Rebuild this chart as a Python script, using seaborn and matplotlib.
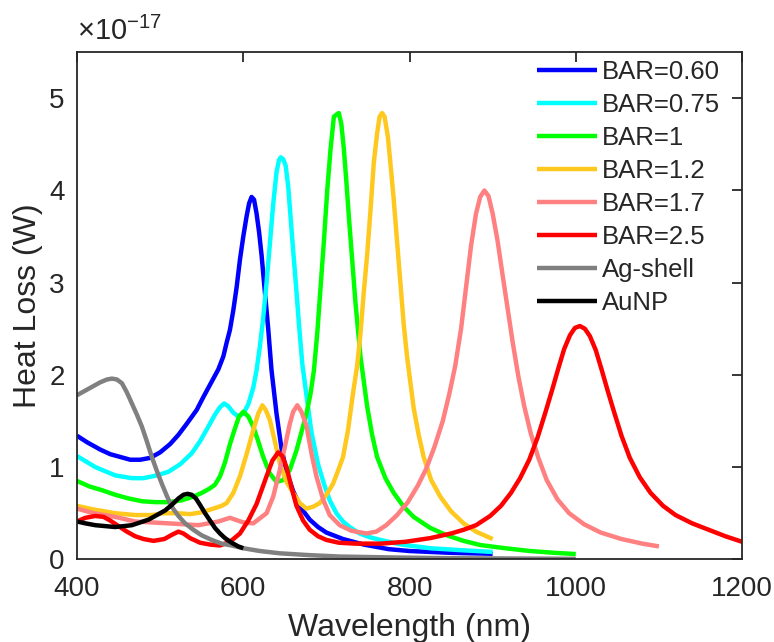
import numpy as np
import pandas as pd
import matplotlib
matplotlib.use("Agg")
import matplotlib.pyplot as plt
import seaborn as sns

# Heat loss spectra (values in units of 1e-17 W) versus wavelength (nm)
bar060_wl = [400, 412, 428, 440, 452, 464, 476, 488, 500, 512, 522, 532, 544, 552, 558, 564, 570, 576,
             580, 584, 588, 592, 596, 600, 604, 607, 610, 613, 616, 619, 622, 626, 630, 634, 640, 646,
             652, 660, 670, 680, 690, 700, 720, 745, 775, 800, 850, 900]
bar060_hl = [1.34, 1.27, 1.19, 1.14, 1.11, 1.08, 1.08, 1.10, 1.16, 1.25, 1.35, 1.47, 1.62, 1.76, 1.86,
             1.96, 2.06, 2.20, 2.35, 2.49, 2.70, 2.95, 3.25, 3.50, 3.72, 3.86, 3.93, 3.90, 3.75, 3.55,
             3.30, 2.90, 2.50, 2.05, 1.58, 1.20, 0.95, 0.74, 0.55, 0.43, 0.35, 0.29, 0.22, 0.16, 0.11,
             0.09, 0.07, 0.06]

bar075_wl = [400, 422, 446, 466, 480, 496, 510, 524, 538, 548, 558, 566, 572, 577, 582, 588, 594, 600,
             606, 612, 616, 620, 624, 628, 632, 636, 640, 643, 645, 648, 651, 654, 657, 660, 663, 667,
             671, 676, 682, 690, 697, 704, 712, 720, 728, 740, 752, 765, 790, 825, 860, 900]
bar075_hl = [1.12, 1.00, 0.91, 0.88, 0.88, 0.91, 0.95, 1.03, 1.15, 1.28, 1.44, 1.57, 1.65, 1.69, 1.66,
             1.59, 1.55, 1.58, 1.68, 1.86, 2.05, 2.31, 2.62, 3.00, 3.42, 3.85, 4.20, 4.33, 4.36, 4.34,
             4.27, 4.05, 3.70, 3.35, 3.02, 2.55, 2.12, 1.78, 1.38, 1.03, 0.82, 0.64, 0.50, 0.41, 0.35,
             0.28, 0.24, 0.21, 0.16, 0.12, 0.10, 0.08]

bar1_wl = [400, 415, 430, 446, 462, 478, 494, 510, 526, 540, 550, 560, 566, 572, 578, 584, 590, 595,
           600, 606, 612, 618, 624, 632, 640, 648, 656, 664, 670, 676, 681, 685, 689, 693, 697, 701,
           705, 709, 713, 715, 718, 721, 724, 727, 731, 735, 741, 749, 755, 761, 771, 781, 793, 805,
           825, 845, 865, 885, 915, 945, 975, 1000]
bar1_hl = [0.85, 0.79, 0.75, 0.70, 0.66, 0.63, 0.62, 0.62, 0.64, 0.68, 0.72, 0.77, 0.81, 0.90, 1.05,
           1.25, 1.42, 1.55, 1.60, 1.55, 1.44, 1.28, 1.11, 0.93, 0.84, 0.86, 0.97, 1.18, 1.38, 1.58,
           1.80, 2.05, 2.45, 2.95, 3.45, 4.00, 4.45, 4.80, 4.83, 4.84, 4.72, 4.45, 4.10, 3.72, 3.25,
           2.78, 2.20, 1.66, 1.35, 1.11, 0.88, 0.72, 0.57, 0.46, 0.34, 0.26, 0.20, 0.155, 0.12, 0.09,
           0.07, 0.057]

bar12_wl = [400, 420, 446, 470, 490, 504, 520, 536, 550, 564, 574, 580, 588, 596, 604, 612, 618, 623,
            627, 632, 638, 644, 652, 660, 668, 676, 684, 692, 700, 708, 714, 720, 726, 732, 737, 741,
            745, 749, 753, 757, 761, 764, 767, 770, 774, 778, 781, 785, 789, 793, 797, 805, 811, 817,
            826, 837, 850, 865, 880, 900]
bar12_hl = [0.58, 0.54, 0.50, 0.48, 0.48, 0.50, 0.50, 0.49, 0.51, 0.55, 0.58, 0.61, 0.72, 0.90, 1.14,
            1.40, 1.58, 1.67, 1.62, 1.51, 1.28, 1.04, 0.84, 0.72, 0.61, 0.55, 0.57, 0.61, 0.70, 0.82,
            0.96, 1.11, 1.40, 1.80, 2.10, 2.45, 2.90, 3.30, 3.78, 4.30, 4.62, 4.80, 4.84, 4.80, 4.58,
            4.20, 3.90, 3.45, 3.00, 2.55, 2.20, 1.64, 1.35, 1.11, 0.86, 0.68, 0.52, 0.39, 0.30, 0.22]

bar17_wl = [400, 420, 446, 470, 510, 546, 570, 584, 600, 612, 628, 636, 644, 650, 656, 660, 665, 670,
            676, 682, 688, 696, 704, 716, 730, 748, 760, 772, 785, 798, 810, 820, 830, 840, 848, 855,
            862, 868, 874, 880, 885, 890, 895, 900, 906, 912, 918, 924, 931, 938, 946, 955, 965, 978,
            992, 1010, 1030, 1055, 1080, 1100]
bar17_hl = [0.55, 0.50, 0.46, 0.41, 0.39, 0.37, 0.41, 0.45, 0.40, 0.39, 0.50, 0.68, 0.97, 1.22, 1.47,
            1.60, 1.67, 1.60, 1.45, 1.15, 0.90, 0.65, 0.48, 0.37, 0.31, 0.28, 0.30, 0.37, 0.48, 0.62,
            0.80, 0.98, 1.22, 1.50, 1.80, 2.10, 2.50, 2.95, 3.40, 3.75, 3.93, 4.00, 3.94, 3.75, 3.45,
            3.08, 2.72, 2.36, 1.98, 1.66, 1.36, 1.10, 0.86, 0.65, 0.50, 0.38, 0.29, 0.22, 0.17, 0.14]

bar25_wl = [400, 410, 422, 432, 440, 450, 460, 470, 480, 492, 505, 515, 522, 528, 536, 548, 560, 572,
            584, 596, 606, 616, 622, 628, 635, 642, 647, 652, 658, 664, 672, 680, 690, 700, 715, 735,
            765, 795, 825, 850, 865, 880, 897, 910, 922, 933, 944, 954, 963, 971, 979, 986, 993, 999,
            1005, 1011, 1017, 1024, 1031, 1038, 1046, 1055, 1065, 1077, 1090, 1105, 1120, 1140, 1160,
            1180, 1200]
bar25_hl = [0.41, 0.45, 0.47, 0.46, 0.42, 0.36, 0.30, 0.25, 0.22, 0.20, 0.22, 0.27, 0.30, 0.28, 0.23,
            0.18, 0.16, 0.15, 0.19, 0.28, 0.42, 0.60, 0.75, 0.90, 1.07, 1.16, 1.12, 1.00, 0.78, 0.58,
            0.42, 0.32, 0.25, 0.21, 0.18, 0.17, 0.17, 0.19, 0.23, 0.28, 0.32, 0.37, 0.47, 0.58, 0.72,
            0.88, 1.08, 1.32, 1.58, 1.82, 2.07, 2.28, 2.43, 2.51, 2.53, 2.50, 2.42, 2.27, 2.06, 1.84,
            1.60, 1.34, 1.10, 0.89, 0.72, 0.58, 0.48, 0.39, 0.32, 0.25, 0.19]

agshell_wl = [400, 410, 418, 428, 436, 442, 448, 454, 460, 466, 472, 478, 484, 490, 496, 502, 508, 514,
              522, 530, 540, 550, 562, 574, 586, 600, 620, 644, 680, 716, 780, 850, 1000]
agshell_hl = [1.78, 1.83, 1.87, 1.92, 1.95, 1.96, 1.95, 1.91, 1.81, 1.69, 1.57, 1.44, 1.28, 1.11, 0.96,
              0.82, 0.69, 0.57, 0.47, 0.39, 0.32, 0.26, 0.21, 0.17, 0.15, 0.12, 0.09, 0.065, 0.045,
              0.03, 0.02, 0.012, 0.005]

aunp_wl = [400, 410, 422, 434, 446, 456, 466, 476, 486, 496, 506, 514, 522, 528, 533, 538, 543, 548,
           554, 560, 566, 572, 578, 586, 594, 600]
aunp_hl = [0.41, 0.39, 0.37, 0.36, 0.35, 0.36, 0.37, 0.40, 0.43, 0.48, 0.53, 0.59, 0.66, 0.70, 0.71,
           0.70, 0.66, 0.59, 0.50, 0.42, 0.34, 0.28, 0.23, 0.18, 0.14, 0.12]

series_names = ["BAR=0.60", "BAR=0.75", "BAR=1", "BAR=1.2", "BAR=1.7", "BAR=2.5", "Ag-shell", "AuNP"]
series_data = [(bar060_wl, bar060_hl), (bar075_wl, bar075_hl), (bar1_wl, bar1_hl), (bar12_wl, bar12_hl),
               (bar17_wl, bar17_hl), (bar25_wl, bar25_hl), (agshell_wl, agshell_hl), (aunp_wl, aunp_hl)]
series_colors = ["#0000FF", "#00FFFF", "#00FF00", "#FFC81E", "#FF8080", "#FF0000", "#808080", "#000000"]

frames = []
for name, (wl, hl) in zip(series_names, series_data):
    frames.append(pd.DataFrame({"Wavelength": wl, "HeatLoss": hl, "Series": name}))
df = pd.concat(frames, ignore_index=True)

sns.set_theme(style="white")
plt.rcParams["font.family"] = ["Liberation Sans", "DejaVu Sans"]
plt.rcParams["mathtext.fontset"] = "custom"
plt.rcParams["mathtext.rm"] = "Liberation Sans"
plt.rcParams["lines.solid_joinstyle"] = "round"
plt.rcParams["lines.solid_capstyle"] = "butt"

fig = plt.figure(figsize=(7.74, 6.42), dpi=100)
ax = fig.add_axes([0.0995, 0.1288, 0.8592, 0.7899])

sns.lineplot(data=df, x="Wavelength", y="HeatLoss", hue="Series", hue_order=series_names,
             palette=series_colors, estimator=None, sort=False, linewidth=3.2, ax=ax)

ax.set_xlim(400, 1200)
ax.set_ylim(0, 5.5)
ax.set_xticks([400, 600, 800, 1000, 1200])
ax.set_yticks([0, 1, 2, 3, 4, 5])

axis_color = "#262626"
for side in ["left", "right", "top", "bottom"]:
    ax.spines[side].set_visible(True)
    ax.spines[side].set_color(axis_color)
    ax.spines[side].set_linewidth(1.3)
ax.tick_params(direction="in", length=7, width=1.3, color=axis_color, labelcolor=axis_color,
               labelsize=20, top=True, right=True)
ax.tick_params(axis="x", pad=12)
ax.tick_params(axis="y", pad=9)

ax.set_xlabel("Wavelength (nm)", fontsize=23, color=axis_color, labelpad=8)
ax.set_ylabel("Heat Loss (W)", fontsize=23, color=axis_color, labelpad=4)

ax.text(0.0, 1.012, r"$\times\mathregular{10^{-17}}$", transform=ax.transAxes,
        fontsize=21, color=axis_color, ha="left", va="bottom")

ax.legend(frameon=False, loc="upper right", bbox_to_anchor=(0.975, 0.995), fontsize=18.5,
          handlelength=2.35, handletextpad=0.2, labelspacing=0.35, borderaxespad=0.0,
          borderpad=0.2)

fig.savefig("out.png", dpi=100)
